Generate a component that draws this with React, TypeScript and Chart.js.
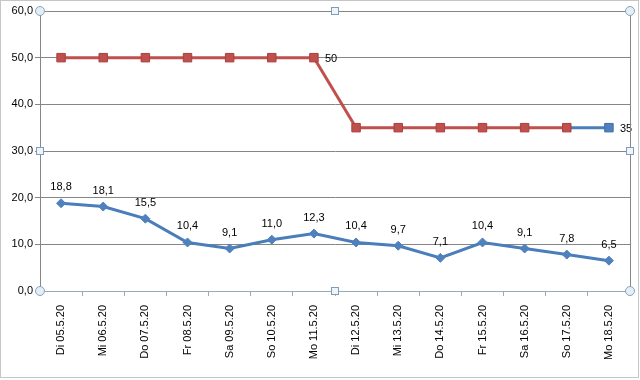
import React, { useEffect, useRef } from "react";
import { Chart, registerables } from "chart.js";

Chart.register(...registerables);

const categories = [
  "Di 05.5.20", "Mi 06.5.20", "Do 07.5.20", "Fr 08.5.20", "Sa 09.5.20", "So 10.5.20", "Mo 11.5.20",
  "Di 12.5.20", "Mi 13.5.20", "Do 14.5.20", "Fr 15.5.20", "Sa 16.5.20", "So 17.5.20", "Mo 18.5.20",
];
const actualValues = [18.8, 18.1, 15.5, 10.4, 9.1, 11.0, 12.3, 10.4, 9.7, 7.1, 10.4, 9.1, 7.8, 6.5];
const targetValues = [50, 50, 50, 50, 50, 50, 50, 35, 35, 35, 35, 35, 35, 35];
const targetLabelIndices = [6, 13];
const yTicks = [0, 10, 20, 30, 40, 50, 60];

const BLUE_LINE = "#4A7EBB";
const BLUE_MARK = "#4F81BD";
const RED = "#C0504D";
const GRID = "#868686";
const FONT = "'Liberation Sans', Arial, sans-serif";

const fmt = (v: number) => v.toFixed(1).replace(".", ",");

const decorPlugin = {
  id: "decor",
  beforeDraw(chart: any) {
    const c = chart.ctx;
    c.save();
    c.strokeStyle = "#c6c6c6";
    c.lineWidth = 1;
    c.strokeRect(0.5, 0.5, chart.width - 2, chart.height - 3);
    c.restore();
  },
  afterDatasetsDraw(chart: any) {
    const c = chart.ctx;
    c.save();
    c.font = `11px ${FONT}`;
    c.fillStyle = "#000";
    const m0 = chart.getDatasetMeta(0);
    m0.data.forEach((pt: any, i: number) => {
      c.textAlign = "center";
      c.textBaseline = "middle";
      c.fillText(fmt(actualValues[i]), pt.x, pt.y - 16);
    });
    const m1 = chart.getDatasetMeta(1);
    targetLabelIndices.forEach((i) => {
      const pt = m1.data[i];
      c.textAlign = "left";
      c.textBaseline = "middle";
      c.fillText(String(targetValues[i]), pt.x + 11, pt.y + 1);
    });
    c.restore();
  },
  afterDraw(chart: any) {
    const c = chart.ctx;
    const a = chart.chartArea;
    c.save();
    c.strokeStyle = GRID;
    c.lineWidth = 1;
    c.beginPath();
    c.moveTo(Math.round(a.right) + 0.5, a.top);
    c.lineTo(Math.round(a.right) + 0.5, a.bottom);
    c.stroke();
    const mx = (a.left + a.right) / 2;
    const my = (a.top + a.bottom) / 2;
    const circles = [[a.left, a.top], [a.right, a.top], [a.left, a.bottom], [a.right, a.bottom]];
    circles.forEach(([x, y]) => {
      c.beginPath();
      c.arc(x, y, 4.5, 0, Math.PI * 2);
      c.fillStyle = "#e4eef6";
      c.fill();
      c.strokeStyle = "#8aa2b8";
      c.stroke();
    });
    const squares = [[mx, a.top], [mx, a.bottom], [a.left, my], [a.right, my]];
    squares.forEach(([x, y]) => {
      const xx = Math.round(x) - 3.5;
      const yy = Math.round(y) - 3.5;
      c.fillStyle = "#eef4fa";
      c.fillRect(xx, yy, 7, 7);
      c.strokeStyle = "#7f9cb8";
      c.strokeRect(xx, yy, 7, 7);
    });
    c.restore();
  },
};

export default function App() {
  const ref = useRef<HTMLCanvasElement | null>(null);
  useEffect(() => {
    document.body.style.margin = "0";
    const canvas = ref.current;
    if (!canvas) return;
    const chart = new Chart(canvas, {
      type: "line",
      data: {
        labels: categories,
        datasets: [
          {
            label: "Ist",
            data: actualValues,
            borderColor: BLUE_LINE,
            backgroundColor: BLUE_MARK,
            borderWidth: 3,
            pointStyle: "rectRot",
            pointRadius: 4.5,
            pointBorderWidth: 1,
            pointBorderColor: BLUE_MARK,
            pointBackgroundColor: BLUE_MARK,
            tension: 0,
          },
          {
            label: "Ziel",
            data: targetValues,
            borderColor: RED,
            backgroundColor: RED,
            borderWidth: 3,
            pointStyle: "rect",
            pointRadius: 6,
            pointBorderWidth: 1,
            pointBorderColor: targetValues.map((_, i) => (i === targetValues.length - 1 ? "#3F6FA8" : "#A9413E")),
            pointBackgroundColor: targetValues.map((_, i) => (i === targetValues.length - 1 ? BLUE_MARK : RED)),
            segment: {
              borderColor: (ctx: any) => (ctx.p1DataIndex === targetValues.length - 1 ? BLUE_LINE : RED),
            },
            tension: 0,
          },
        ],
      },
      options: {
        animation: false,
        responsive: false,
        maintainAspectRatio: false,
        layout: { padding: { top: 11, right: 10, left: 0, bottom: 0 } },
        plugins: { legend: { display: false }, tooltip: { enabled: false } },
        scales: {
          x: {
            offset: true,
            afterFit: (s: any) => { s.height = 89; },
            grid: {
              offset: true,
              drawOnChartArea: false,
              drawTicks: true,
              tickLength: 5,
              color: "#9aaabb",
            },
            border: { color: "#9aaabb" },
            ticks: {
              minRotation: 90,
              maxRotation: 90,
              autoSkip: false,
              padding: 9,
              color: "#000",
              font: { family: FONT, size: 11 },
            },
          },
          y: {
            min: 0,
            max: 60,
            afterFit: (s: any) => { s.width = 40; },
            afterBuildTicks: (s: any) => { s.ticks = yTicks.map((v) => ({ value: v })); },
            grid: { color: GRID, tickLength: 5 },
            border: { color: GRID },
            ticks: {
              padding: 2,
              color: "#000",
              font: { family: FONT, size: 11 },
              callback: (v: any) => fmt(Number(v)),
            },
          },
        },
      },
      plugins: [decorPlugin],
    });
    return () => chart.destroy();
  }, []);
  return <canvas ref={ref} width={640} height={380} style={{ display: "block" }} />;
}
